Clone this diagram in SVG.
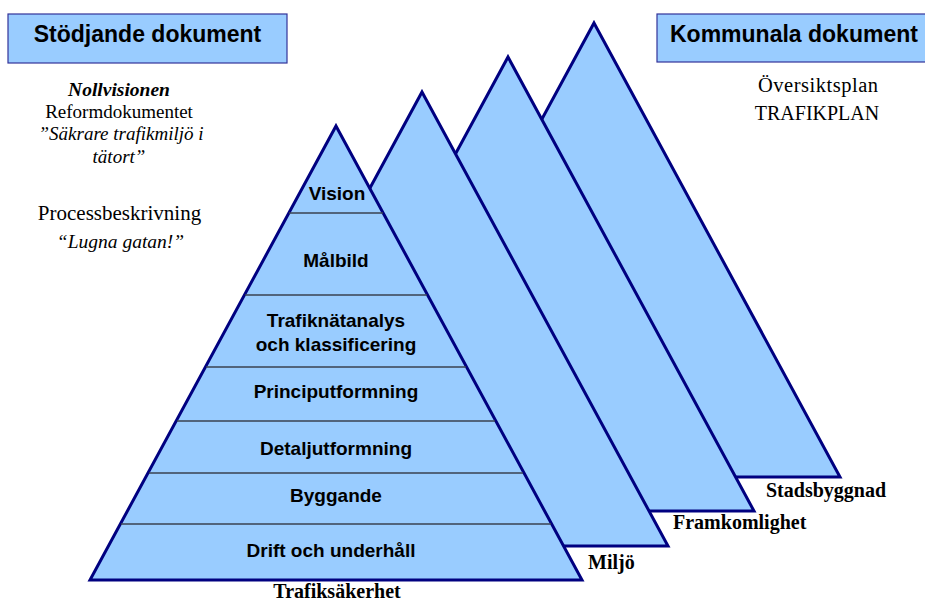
<svg xmlns="http://www.w3.org/2000/svg" width="925" height="601" viewBox="0 0 925 601">
<style>
.tri{fill:#99CCFF;stroke:#000080;stroke-width:3;stroke-linejoin:miter}
.box{fill:#99CCFF;stroke:#333399;stroke-width:1.2}
.div{stroke:#3a4250;stroke-width:1.5}
.hd{font-family:"Liberation Sans",Arial,sans-serif;font-weight:bold;font-size:23px;fill:#000}
.lv{font-family:"Liberation Sans",Arial,sans-serif;font-weight:bold;font-size:19px;fill:#000;text-anchor:middle}
.sf{font-family:"Liberation Serif","Times New Roman",serif;font-size:19px;fill:#000;text-anchor:middle}
.it{font-style:italic}
.bl{font-family:"Liberation Serif","Times New Roman",serif;font-weight:bold;font-size:20px;fill:#000}
</style>
<rect width="925" height="601" fill="#fff"/>
<g id="header-stodjande">
<rect class="box" x="8" y="14" width="279" height="49"/>
<text class="hd" x="147.5" y="42" text-anchor="middle">Stödjande dokument</text>
</g>
<g id="header-kommunala">
<rect class="box" x="657" y="14" width="275" height="48"/>
<text class="hd" x="670" y="42">Kommunala dokument</text>
</g>
<g id="stodjande-text">
<text class="sf" x="119" y="96" style="font-weight:bold;font-style:italic;font-size:19.5px">Nollvisionen</text>
<text class="sf" x="119" y="118">Reformdokumentet</text>
<text class="sf it" x="121" y="140">”Säkrare trafikmiljö i</text>
<text class="sf it" x="119" y="163">tätort”</text>
<text class="sf" x="119.5" y="220" style="font-size:21px">Processbeskrivning</text>
<text class="sf it" x="120.5" y="248" style="font-size:19.5px">“Lugna gatan!”</text>
</g>
<g id="kommunala-text">
<text class="sf" x="818" y="92" style="font-size:20.5px" textLength="120" lengthAdjust="spacing">Översiktsplan</text>
<text class="sf" x="817" y="120" style="font-size:20px">TRAFIKPLAN</text>
</g>
<g id="stadsbyggnad">
<polygon class="tri" points="594,23 840,477 348,477"/>
<text class="bl" x="766" y="497">Stadsbyggnad</text>
</g>
<g id="framkomlighet">
<polygon class="tri" points="508,57 754,511 262,511"/>
<text class="bl" x="673" y="529">Framkomlighet</text>
</g>
<g id="miljo">
<polygon class="tri" points="422,92 668,546 176,546"/>
<text class="bl" x="588" y="569">Miljö</text>
</g>
<g id="trafiksakerhet">
<polygon class="tri" points="336,126 582,580 90,580"/>
<g id="dividers">
<line class="div" x1="289" y1="213" x2="383" y2="213"/>
<line class="div" x1="245" y1="295" x2="427" y2="295"/>
<line class="div" x1="206" y1="367" x2="466" y2="367"/>
<line class="div" x1="177" y1="421" x2="495" y2="421"/>
<line class="div" x1="149" y1="473" x2="523" y2="473"/>
<line class="div" x1="121" y1="524" x2="551" y2="524"/>
</g>
<text class="lv" x="337" y="200">Vision</text>
<text class="lv" x="336" y="267">Målbild</text>
<text class="lv" x="336" y="327">Trafiknätanalys</text>
<text class="lv" x="336" y="351">och klassificering</text>
<text class="lv" x="336" y="398">Principutformning</text>
<text class="lv" x="336" y="455">Detaljutformning</text>
<text class="lv" x="336" y="502">Byggande</text>
<text class="lv" x="331" y="557">Drift och underhåll</text>
<text class="bl" x="337" y="598" text-anchor="middle">Trafiksäkerhet</text>
</g>
</svg>
